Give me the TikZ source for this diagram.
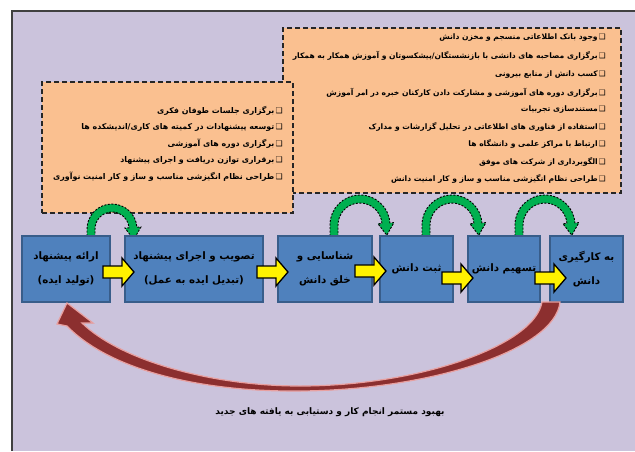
\documentclass[tikz,border=0pt]{standalone}
\usepackage{fontspec}
\usetikzlibrary{calc}
\TeXXeTstate=1
\newfontfamily\arabicfont[Script=Arabic]{DejaVu Sans}
\newfontfamily\symfont{DejaVu Sans}
\newcommand\fa[1]{{\arabicfont\bfseries\beginR #1\endR}}
\newcommand\chk{{\symfont\mdseries ❑}\,}
\definecolor{bgc}{HTML}{CBC3DC}
\definecolor{orangec}{HTML}{FAC090}
\definecolor{bluec}{HTML}{4F81BD}
\definecolor{blued}{HTML}{385D8A}
\definecolor{greenc}{HTML}{00B050}
\definecolor{redc}{HTML}{8C2F2F}
\definecolor{pinkc}{HTML}{E8A0A0}
\tikzset{
  dbox/.style={draw=black!85, fill=orangec, line width=1.3pt, dash pattern=on 5pt off 3pt, inner sep=0},
  item/.style={inner sep=0, anchor=east, font=\fontsize{7.6}{9}\selectfont},
  litem/.style={item, font=\fontsize{7.9}{9}\selectfont},
  stage/.style={draw=blued, fill=bluec, line width=1.2pt, inner sep=0, align=center, font=\fontsize{10.3}{24}\selectfont},
  yarr/.style={draw=black, fill=yellow, line width=1.3pt, line join=miter},
  garr/.style={draw=black, fill=greenc, line width=0.9pt, dash pattern=on 2pt off 1.5pt},
  rarr/.style={fill=redc, draw=pinkc, line width=1.2pt},
  note/.style={inner sep=0, font=\fontsize{9}{11}\selectfont}
}
% yellow block arrow: #1 left x, #2 centre y
\newcommand\yarrow[2]{\draw[yarr] (#1,#2-6) -- (#1+19,#2-6) -- (#1+19,#2-14) -- (#1+31,#2) -- (#1+19,#2+14) -- (#1+19,#2+6) -- (#1,#2+6) -- cycle;}
% green arc arrow: #1 cx, #2 cy, #3 mid radius, #4 foot dy
\newcommand\garc[4]{\begin{scope}[shift={(#1,#2)}]
\filldraw[garr] ({-(#3+4)},#4) -- (180:{#3+4}) arc[start angle=180, end angle=356, radius={#3+4}]
 -- (356:{#3+8}) -- ($(356:#3)+(86:12)$) -- (356:{#3-8}) -- (356:{#3-4})
 arc[start angle=356, end angle=180, radius={#3-4}] -- ({-(#3-4)},#4) -- cycle;
\end{scope}}
\begin{document}
\begin{tikzpicture}[x=1pt,y=-1pt]
\useasboundingbox (0,0) rectangle (635,451);
\fill[bgc] (12,11) rectangle (635,451);
\draw[line width=1.5pt, black!75] (12,451) -- (12,11) -- (635,11);

% dashed boxes
\node[dbox, minimum width=338pt, minimum height=165pt] (rbox) at (452,110.5) {};
\node[dbox, minimum width=251pt, minimum height=131pt] (lbox) at (167.5,147.5) {};

% right list
\node[item] (r1) at (606,38) {\fa{\chk وجود بانک اطلاعاتی منسجم و مخزن دانش}};
\node[item] (r2) at (606,56) {\fa{\chk برگزاری مصاحبه های دانشی با بازنشستگان/پیشکسوتان و آموزش همکار به همکار}};
\node[item] (r3) at (606,75) {\fa{\chk کسب دانش از منابع بیرونی}};
\node[item] (r4) at (606,93) {\fa{\chk برگزاری دوره های آموزشی و مشارکت دادن کارکنان خبره در امر آموزش}};
\node[item] (r5) at (606,110) {\fa{\chk مستندسازی تجربیات}};
\node[item] (r6) at (606,127) {\fa{\chk استفاده از فناوری های اطلاعاتی در تحلیل گزارشات و مدارک}};
\node[item] (r7) at (606,144) {\fa{\chk ارتباط با مراکز علمی و دانشگاه ها}};
\node[item] (r8) at (606,162) {\fa{\chk الگوبرداری از شرکت های موفق}};
\node[item] (r9) at (606,179) {\fa{\chk طراحی نظام انگیزشی مناسب و ساز و کار امنیت دانش}};

% left list
\node[litem] (l1) at (283,111) {\fa{\chk برگزاری جلسات طوفان فکری}};
\node[litem] (l2) at (283,127.5) {\fa{\chk توسعه پیشنهادات در کمیته های کاری/اندیشکده ها}};
\node[litem] (l3) at (283,144) {\fa{\chk برگزاری دوره های آموزشی}};
\node[litem] (l4) at (283,160.5) {\fa{\chk برقراری توازن دریافت و اجرای پیشنهاد}};
\node[litem] (l5) at (283,177) {\fa{\chk طراحی نظام انگیزشی مناسب و ساز و کار امنیت نوآوری}};

% green arcs
\garc{112}{229}{21}{7}
\garc{360}{225}{26}{11}
\garc{452}{225}{26}{11}
\garc{545}{225}{26}{11}

% stage boxes
\node[stage, minimum width=88pt, minimum height=66pt] (s1) at (66,269) {\fa{ارائه پیشنهاد}\\\fa{(تولید ایده)}};
\node[stage, minimum width=138pt, minimum height=66pt] (s2) at (194,269) {\fa{تصویب و اجرای پیشنهاد}\\\fa{(تبدیل ایده به عمل)}};
\node[stage, minimum width=94pt, minimum height=66pt] (s3) at (325,269) {\fa{شناسایی و}\\\fa{خلق دانش}};
\node[stage, minimum width=73pt, minimum height=66pt] (s4) at (416.5,269) {\fa{ثبت دانش}};
\node[stage, minimum width=72pt, minimum height=66pt] (s5) at (504,269) {\fa{تسهیم دانش}};
\node[stage, minimum width=73pt, minimum height=66pt] (s6) at (586.5,269) {\fa{به کارگیری}\\\fa{دانش}};

% yellow arrows
\yarrow{103}{272}
\yarrow{257}{272}
\yarrow{355}{271}
\yarrow{442}{278}
\yarrow{535}{278}

% red feedback arrow
\filldraw[rarr] (67,326) .. controls (110,370) and (200,392) .. (300,391)
  .. controls (430,390) and (555,350) .. (560,302)
  -- (542,302) .. controls (535,345) and (420,386) .. (300,386)
  .. controls (210,386) and (120,360) .. (82,323)
  -- (93,323) -- (67,303) -- (57,324) -- cycle;

\node[note] (t) at (330,412) {\fa{بهبود مستمر انجام کار و دستیابی به یافته های جدید}};
\end{tikzpicture}
\end{document}
